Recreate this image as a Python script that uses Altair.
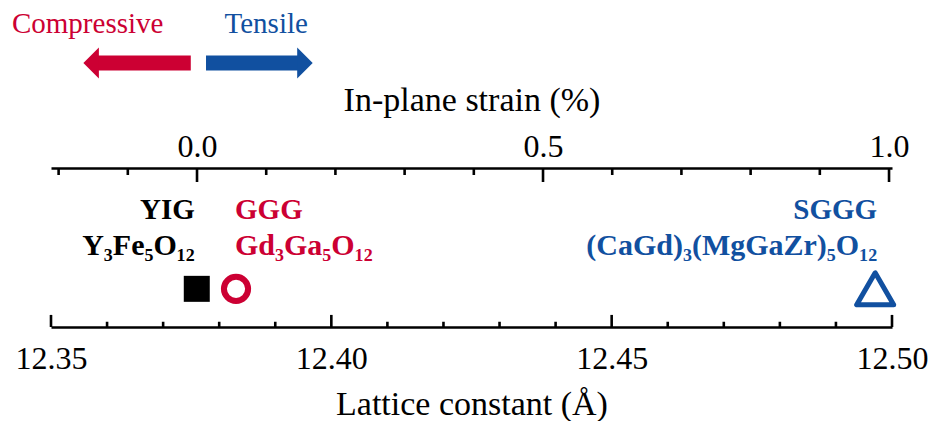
import altair as alt
import pandas as pd

SERIF = "Liberation Serif"
RED = "#CC0033"
BLUE = "#1150A0"
INK = "#000000"

# ---- substrates: lattice constant (Å) ----
names = ["YIG", "GGG", "SGGG"]
formulas = ["Y₃Fe₅O₁₂", "Gd₃Ga₅O₁₂", "(CaGd)₃(MgGaZr)₅O₁₂"]
lattice_a = [12.376, 12.383, 12.497]

# ---- axis ticks ----
lattice_major = [12.35, 12.40, 12.45, 12.50]
lattice_minor = [12.36, 12.37, 12.38, 12.39, 12.41, 12.42, 12.43, 12.44,
                 12.46, 12.47, 12.48, 12.49]
strain_major = [0.0, 0.5, 1.0]
strain_minor = [-0.2, -0.1, 0.1, 0.2, 0.3, 0.4, 0.6, 0.7, 0.8, 0.9]

# ---- strain-direction arrows (in % strain) ----
arrow_words = ["Compressive", "Tensile"]
arrow_from = [-0.009, 0.013]
arrow_to = [-0.146, 0.146]
arrow_head = [-0.153, 0.156]
word_x = [-0.158, 0.100]

# vertical levels in panel units (0 = bottom axis line, 1 = top axis line)
ROW_MARKER = 0.24
ROW_NAME = 0.679
ROW_FORMULA = 0.452
ROW_ARROW = 1.66
ROW_WORD = 1.849
BOT_MAJOR, BOT_MINOR = 0.076, 0.033
TOP_MAJOR, TOP_MINOR = 0.912, 0.956

XL = alt.Scale(domain=[12.35, 12.50], nice=False, zero=False)
XS = alt.Scale(domain=[-0.211, 1.0043], nice=False, zero=False)
YS = alt.Scale(domain=[0, 1], nice=False, zero=False)

LEFT_HEAD = "M-0.5,0L0.5,-1L0.5,1Z"
RIGHT_HEAD = "M0.5,0L-0.5,-1L-0.5,1Z"

axis_style = dict(
    ticks=False, tickSize=0, grid=False, domainWidth=2.6, domainColor=INK,
    labelFont=SERIF, labelFontSize=32, labelColor=INK, labelFlush=False,
    labelOverlap=False, labelBaseline="alphabetic",
    titleFont=SERIF, titleFontSize=34, titleFontWeight="normal", titleColor=INK,
    titleBaseline="alphabetic",
)

ax_bottom = alt.Axis(orient="bottom", values=lattice_major, format=".2f",
                     title="Lattice constant (Å)", labelPadding=41, titleY=87,
                     **axis_style)
ax_top = alt.Axis(orient="top", values=strain_major, format=".1f",
                  title="In-plane strain (%)", labelPadding=12, titleY=-58,
                  **axis_style)

# tick marks drawn inward from each axis line
lat_ticks = pd.DataFrame({
    "a": lattice_major + lattice_minor,
    "y0": 0.0,
    "y1": [BOT_MAJOR] * len(lattice_major) + [BOT_MINOR] * len(lattice_minor),
})
str_ticks = pd.DataFrame({
    "s": strain_major + strain_minor,
    "y0": 1.0,
    "y1": [TOP_MAJOR] * len(strain_major) + [TOP_MINOR] * len(strain_minor),
})

bottom = alt.Chart(lat_ticks).mark_rule(color=INK, strokeWidth=2.6, strokeCap="butt").encode(
    x=alt.X("a:Q", scale=XL, axis=ax_bottom),
    y=alt.Y("y0:Q", scale=YS, axis=None),
    y2="y1:Q",
)
top = alt.Chart(str_ticks).mark_rule(color=INK, strokeWidth=2.6, strokeCap="butt").encode(
    x=alt.X("s:Q", scale=XS, axis=ax_top),
    y=alt.Y("y0:Q", scale=YS, axis=None),
    y2="y1:Q",
)

arrows = pd.DataFrame({"word": arrow_words, "s0": arrow_from, "s1": arrow_to,
                       "head": arrow_head, "wx": word_x})
arrows["ya"] = ROW_ARROW
arrows["yw"] = ROW_WORD
word_color = alt.Color("word:N", scale=alt.Scale(domain=arrow_words, range=[RED, BLUE]),
                       legend=None)

shaft = alt.Chart(arrows).mark_rule(strokeWidth=15, strokeCap="butt").encode(
    x=alt.X("s0:Q", scale=XS, axis=None), x2="s1:Q",
    y=alt.Y("ya:Q", scale=YS, axis=None), color=word_color,
)
heads = alt.Chart(arrows).mark_point(filled=True, opacity=1, size=961, strokeWidth=0).encode(
    x=alt.X("head:Q", scale=XS, axis=None),
    y=alt.Y("ya:Q", scale=YS, axis=None),
    shape=alt.Shape("word:N", scale=alt.Scale(domain=arrow_words, range=[LEFT_HEAD, RIGHT_HEAD]),
                    legend=None),
    color=word_color,
)
words = alt.Chart(arrows).mark_text(font=SERIF, fontSize=29, baseline="alphabetic",
                                    align="center").encode(
    x=alt.X("wx:Q", scale=XS, axis=None),
    y=alt.Y("yw:Q", scale=YS, axis=None),
    text="word:N", color=word_color,
)

subs = pd.DataFrame({"name": names, "formula": formulas, "a": lattice_a})
subs["ym"] = ROW_MARKER
subs["yn"] = ROW_NAME
subs["yf"] = ROW_FORMULA


def marker(name, **mark):
    return alt.Chart(subs).transform_filter(alt.datum.name == name).mark_point(
        opacity=1, **mark).encode(
        x=alt.X("a:Q", scale=XL, axis=None),
        y=alt.Y("ym:Q", scale=YS, axis=None),
    )


def labels(name, color, align, dx):
    base = alt.Chart(subs).transform_filter(alt.datum.name == name)
    out = []
    for field, row, size in (("name", "yn", 29), ("formula", "yf", 30)):
        out.append(base.mark_text(font=SERIF, fontSize=size, fontWeight="bold", color=color,
                                  align=align, baseline="alphabetic", dx=dx).encode(
            x=alt.X("a:Q", scale=XL, axis=None),
            y=alt.Y(f"{row}:Q", scale=YS, axis=None),
            text=f"{field}:N",
        ))
    return out


yig = marker("YIG", shape="square", size=676, filled=True, color=INK, strokeWidth=0)
ggg = marker("GGG", shape="circle", size=585, filled=False, color=RED, strokeWidth=6)
sggg = marker("SGGG", shape="triangle-up", size=1369, filled=False, color=BLUE,
              strokeWidth=5, strokeJoin="round")

layers = [bottom, top, shaft, heads, words, yig, ggg, sggg]
layers += labels("YIG", INK, "right", -2)
layers += labels("GGG", RED, "left", -1)
layers += labels("SGGG", BLUE, "right", 2)

chart = alt.layer(*layers).resolve_scale(x="independent").properties(
    width=841, height=159,
    autosize=alt.AutoSizeParams(type="none"),
    padding={"left": 51, "top": 168, "right": 38, "bottom": 94},
    background="white",
).configure_view(stroke=None)

chart.save("out.html", embed_options={"renderer": "svg", "actions": False})
